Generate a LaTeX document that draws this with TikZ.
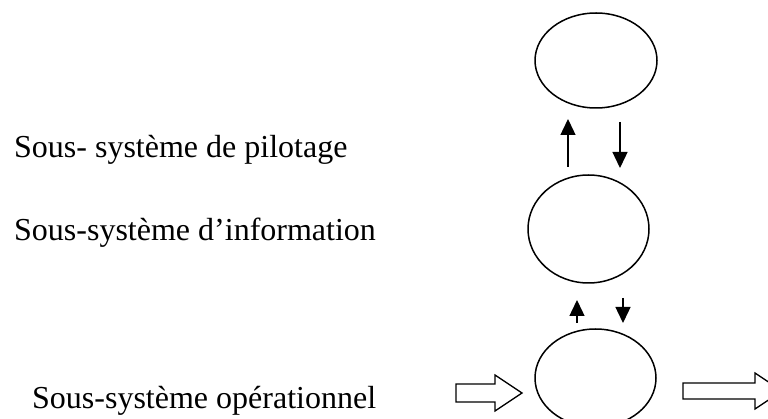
\documentclass[tikz,border=0pt]{standalone}
\usepackage{fontspec}
\setmainfont{Liberation Serif}
\usetikzlibrary{shapes.geometric,arrows.meta}
\begin{document}
\begin{tikzpicture}[x=1pt,y=-1pt,
  bubble/.style={draw,line width=1.5pt,ellipse,inner sep=0pt},
  flow/.style={line width=1.4pt,-{Triangle[width=15pt,length=16pt]}},
  bigarrow/.style={draw,line width=1.3pt,line join=miter},
  label/.style={anchor=base west,inner sep=0pt,font=\fontsize{32}{38}\selectfont}]
\useasboundingbox (0,0) rectangle (768,419);
\clip (0,0) rectangle (768,419);

% subsystem labels
\node[label] (pil) at (14,158) {Sous- système de pilotage};
\node[label] (inf) at (14,241) {Sous-système d’information};
\node[label] (ope) at (32,408) {Sous-système opérationnel};

% the three subsystems
\node[bubble,minimum width=122pt,minimum height=95pt] (top) at (596,60.5) {};
\node[bubble,minimum width=121pt,minimum height=108pt] (mid) at (588.5,229) {};
\node[bubble,minimum width=121pt,minimum height=98pt] (bot) at (595.5,378) {};

% exchanges between subsystems
\coordinate (a1s) at (568,167); \coordinate (a1e) at (568,119);
\coordinate (a2s) at (620,122); \coordinate (a2e) at (620,168);
\coordinate (b1s) at (577,323); \coordinate (b1e) at (577,300);
\coordinate (b2s) at (623,298); \coordinate (b2e) at (623,323);
\draw[flow] (a1s) -- (a1e);
\draw[flow] (a2s) -- (a2e);
\draw[flow] (b1s) -- (b1e);
\draw[flow] (b2s) -- (b2e);

% input and output block arrows
\draw[bigarrow] (456,384) -- (495,384) -- (495,375) -- (522,393)
  -- (495,411) -- (495,402) -- (456,402) -- cycle;
\draw[bigarrow] (683,383) -- (755,383) -- (755,373) -- (782,391)
  -- (755,409) -- (755,399) -- (683,399) -- cycle;
\end{tikzpicture}
\end{document}
